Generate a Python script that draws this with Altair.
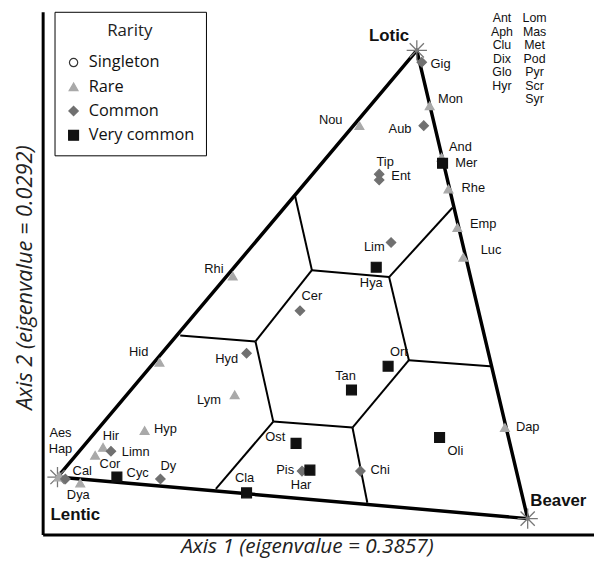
import altair as alt
import pandas as pd

# Reading grid: values below were read off the reference picture
# (horizontal reading, vertical reading); converted to plot units below.
X0, Y0 = 43, 537

species = ["Gig", "Mon", "Nou", "Aub", "And", "Mer", "Tip", "Ent", "Rhe", "Emp",
           "Luc", "Lim", "Hya", "Rhi", "Cer", "Hid", "Hyd", "Ort", "Tan", "Lym",
           "Hyp", "Hir", "Cor", "Limn", "Aes", "Hap", "Cal", "Dya", "Cyc", "Dy",
           "Cla", "Ost", "Pis", "Har", "Chi", "Oli", "Dap"]
rarity = ["Common", "Rare", "Rare", "Common", "Rare", "Very common", "Common", "Common", "Rare", "Rare",
          "Rare", "Common", "Very common", "Rare", "Common", "Rare", "Common", "Very common", "Very common", "Rare",
          "Rare", "Rare", "Rare", "Common", "Rare", "Rare", "Common", "Rare", "Very common", "Common",
          "Very common", "Very common", "Common", "Very common", "Common", "Very common", "Rare"]
mark_h = [426, 434, 363, 428, 446, 447, 383, 383, 453, 462,
          468, 395, 380, 235, 303, 161, 249, 392, 355, 237,
          146, 104, 96, 112, 59, 60, 66, 81, 118, 162,
          249, 299, 305, 313, 364, 444, 510]
mark_v = [60, 104, 124, 124, 156, 162, 173, 179, 188, 227,
          257, 242, 267, 276, 311, 363, 354, 367, 391, 396,
          432, 449, 457, 453, 479, 478, 481, 485, 479, 481,
          495, 445, 473, 472, 473, 439, 429]
label_h = [445, 455, 334, 404, 465, 471, 389, 405, 478, 488,
           496, 378, 375, 216, 315, 140, 229, 403, 349, 211,
           167, 112, 111, 137, 61, 61, 83, 79, 139, 170,
           247, 278, 288, 304, 384, 460, 533]
label_v = [62, 97, 118, 127, 146, 162, 161, 175, 187, 223,
           250, 247, 283, 269, 296, 353, 360, 353, 377, 401,
           431, 438, 466, 454, 435, 451, 473, 497, 475, 468,
           480, 439, 472, 487, 472, 453, 428]

# Singleton species listed at top right
single_names = ["Ant", "Aph", "Clu", "Dix", "Glo", "Hyr",
                "Lom", "Mas", "Met", "Pod", "Pyr", "Scr", "Syr"]
single_h = [507, 507, 507, 507, 507, 507,
            540, 540, 540, 540, 540, 540, 540]
single_v = [15, 29, 43, 57, 70, 84,
            15, 29, 43, 57, 70, 84, 97]

# Triangle vertices (habitat end-members)
vertex_names = ["Lotic", "Lentic", "Beaver"]
vertex_h = [421, 58, 533]
vertex_v = [48, 479, 521]
vertex_label_h = [393, 76, 564]
vertex_label_v = [33, 517, 503]

# Internal partition lines (segment end points)
seg_h1 = [298, 315, 393, 315, 258, 258, 276, 276, 356, 356, 413, 413]
seg_v1 = [195, 270, 277, 270, 342, 342, 423, 423, 429, 429, 361, 361]
seg_h2 = [315, 393, 457, 258, 182, 276, 356, 218, 371, 413, 393, 495]
seg_v2 = [270, 277, 207, 342, 336, 423, 429, 491, 505, 361, 277, 367]

rar_domain = ["Singleton", "Rare", "Common", "Very common"]
shape_range = ["circle", "triangle-up", "diamond", "square"]
fill_range = ["white", "#a9a9a9", "#707070", "#111111"]
stroke_range = ["#333333", "#a9a9a9", "#707070", "#111111"]
size_range = [70, 100, 85, 140]


def cx(v):
    return [a - X0 for a in v]


def cy(v):
    return [Y0 - a for a in v]


pts = pd.DataFrame({"name": species, "rarity": rarity,
                    "x": cx(mark_h), "y": cy(mark_v)})
lab = pd.DataFrame({"name": species, "x": cx(label_h), "y": cy(label_v)})
sing = pd.DataFrame({"name": single_names, "x": cx(single_h), "y": cy(single_v)})
vert = pd.DataFrame({"name": vertex_names, "x": cx(vertex_h), "y": cy(vertex_v)})
vlab = pd.DataFrame({"name": vertex_names, "x": cx(vertex_label_h), "y": cy(vertex_label_v)})
tri = pd.DataFrame({"x": cx(vertex_h), "y": cy(vertex_v),
                    "x2": cx(vertex_h[1:] + vertex_h[:1]), "y2": cy(vertex_v[1:] + vertex_v[:1])})
segs = pd.DataFrame({"x": cx(seg_h1), "y": cy(seg_v1), "x2": cx(seg_h2), "y2": cy(seg_v2)})

W, H = 557, 528
xs = alt.Scale(domain=[0, W], nice=False, zero=False)
ys = alt.Scale(domain=[0, H], nice=False, zero=False)

xaxis = alt.Axis(title="Axis 1 (eigenvalue = 0.3857)", domain=True, domainWidth=3,
                 domainColor="black", ticks=False, labels=False, grid=False,
                 titleFont="Open Sans", titleFontStyle="italic", titleFontWeight="normal",
                 titleFontSize=21, titleColor="#222222", titleX=267, titleY=12,
                 titleBaseline="middle", titleAlign="center")
yaxis = alt.Axis(title="Axis 2 (eigenvalue = 0.0292)", domain=True, domainWidth=3,
                 domainColor="black", ticks=False, labels=False, grid=False,
                 titleFont="Open Sans", titleFontStyle="italic", titleFontWeight="normal",
                 titleFontSize=22, titleColor="#222222", titleX=-18, titleY=268,
                 titleBaseline="middle", titleAlign="center", titleAngle=270)

STAR = "M -1 0 L 1 0 M 0 -1 L 0 1 M -0.7 -0.7 L 0.7 0.7 M -0.7 0.7 L 0.7 -0.7"


def build(with_stroke_width):
    lkw = dict(title="Rarity", orient="none", legendX=12, legendY=0, padding=11,
               strokeColor="black", fillColor="white",
               titleFont="Open Sans", titleFontSize=17, titleFontWeight="normal",
               titleColor="#222222", titleAnchor="middle", titlePadding=15,
               labelFont="Open Sans", labelFontSize=16.5, labelColor="#111111",
               labelOffset=7, rowPadding=7.5, symbolStrokeWidth=1.2)
    if with_stroke_width:
        lkw["strokeWidth"] = 2.5
    leg = alt.Legend(**lkw)

    X = lambda f: alt.X(f"{f}:Q", scale=xs, axis=xaxis)
    Y = lambda f: alt.Y(f"{f}:Q", scale=ys, axis=yaxis)

    inner = alt.Chart(segs).mark_rule(color="black", strokeWidth=2).encode(
        x=X("x"), y=Y("y"), x2="x2:Q", y2="y2:Q")
    edges = alt.Chart(tri).mark_rule(color="black", strokeWidth=3.5, strokeCap="round").encode(
        x=X("x"), y=Y("y"), x2="x2:Q", y2="y2:Q")
    stars = alt.Chart(vert).mark_point(shape=STAR, size=420, filled=False,
                                       color="#777777", strokeWidth=1.3, opacity=1).encode(
        x=X("x"), y=Y("y"))
    points = alt.Chart(pts).mark_point(filled=True, opacity=1, strokeWidth=1.2).encode(
        x=X("x"), y=Y("y"),
        shape=alt.Shape("rarity:N", scale=alt.Scale(domain=rar_domain, range=shape_range), legend=leg),
        fill=alt.Fill("rarity:N", scale=alt.Scale(domain=rar_domain, range=fill_range), legend=leg),
        stroke=alt.Stroke("rarity:N", scale=alt.Scale(domain=rar_domain, range=stroke_range), legend=leg),
        size=alt.Size("rarity:N", scale=alt.Scale(domain=rar_domain, range=size_range), legend=leg),
    )
    labels = alt.Chart(lab).mark_text(font="Liberation Sans", fontSize=13, color="#111111",
                                      align="center", baseline="middle").encode(
        x=X("x"), y=Y("y"), text="name:N")
    singles = alt.Chart(sing).mark_text(font="Liberation Sans", fontSize=12.5, color="#111111",
                                        align="center", baseline="middle").encode(
        x=X("x"), y=Y("y"), text="name:N")
    vlabels = alt.Chart(vlab).mark_text(font="Liberation Sans", fontSize=17, fontWeight="bold",
                                        color="#111111", align="center", baseline="middle").encode(
        x=X("x"), y=Y("y"), text="name:N")

    ch = alt.layer(inner, edges, stars, points, labels, singles, vlabels).properties(
        width=W, height=H,
        autosize=alt.AutoSizeParams(type="none"),
        padding={"left": 35, "top": 1, "right": 0, "bottom": 25},
    ).configure_view(stroke=None)
    return ch


try:
    chart = build(True)
    chart.to_dict()
except Exception:
    chart = build(False)

chart.save("out.html", embed_options={"renderer": "svg", "actions": False})
